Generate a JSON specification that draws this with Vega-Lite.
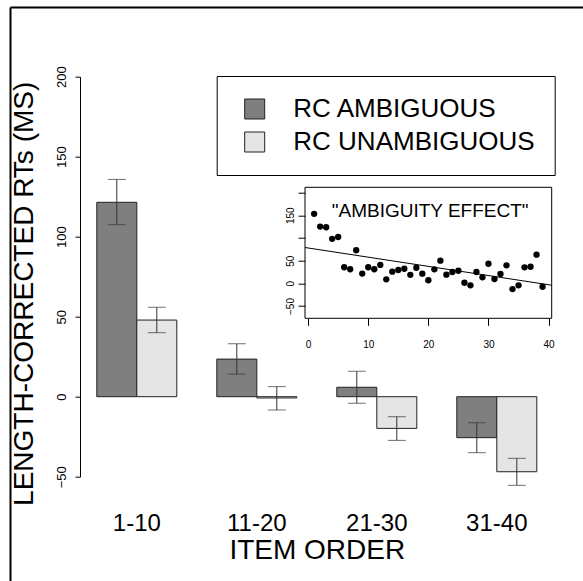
{
  "$schema": "https://vega.github.io/schema/vega-lite/v6.json",
  "width": 473.6,
  "height": 400,
  "autosize": "none",
  "padding": {"left": 80, "top": 76.7, "right": 29.4, "bottom": 104.3},
  "background": "white",
  "config": {
    "font": "Liberation Sans",
    "view": {"stroke": null},
    "axis": {"labelColor": "black", "titleColor": "black", "domainColor": "black", "tickColor": "black", "grid": false, "titleFontWeight": "normal"},
    "legend": {"strokeWidth": 1}
  },
  "datasets": {
    "bars": [
      {"order": "1-10", "cond": "RC AMBIGUOUS", "rt": 121.5, "lo": 107.5, "hi": 135.8},
      {"order": "1-10", "cond": "RC UNAMBIGUOUS", "rt": 47.9, "lo": 40.0, "hi": 55.9},
      {"order": "11-20", "cond": "RC AMBIGUOUS", "rt": 23.5, "lo": 14.1, "hi": 33.1},
      {"order": "11-20", "cond": "RC UNAMBIGUOUS", "rt": -0.8, "lo": -8.3, "hi": 6.3},
      {"order": "21-30", "cond": "RC AMBIGUOUS", "rt": 5.9, "lo": -4.1, "hi": 15.9},
      {"order": "21-30", "cond": "RC UNAMBIGUOUS", "rt": -19.8, "lo": -27.3, "hi": -12.5},
      {"order": "31-40", "cond": "RC AMBIGUOUS", "rt": -25.6, "lo": -35.0, "hi": -16.3},
      {"order": "31-40", "cond": "RC UNAMBIGUOUS", "rt": -46.9, "lo": -55.4, "hi": -38.5}
    ],
    "items": [
      {"item": 1, "rt": 153}, {"item": 2, "rt": 125}, {"item": 3, "rt": 123.5}, {"item": 4, "rt": 98},
      {"item": 5, "rt": 102}, {"item": 6, "rt": 35.5}, {"item": 7, "rt": 31}, {"item": 8, "rt": 72.8},
      {"item": 9, "rt": 21.5}, {"item": 10, "rt": 35.5}, {"item": 11, "rt": 31}, {"item": 12, "rt": 40.5},
      {"item": 13, "rt": 8.8}, {"item": 14, "rt": 25.6}, {"item": 15, "rt": 29.3}, {"item": 16, "rt": 32.2},
      {"item": 17, "rt": 18.8}, {"item": 18, "rt": 34.4}, {"item": 19, "rt": 21.2}, {"item": 20, "rt": 6.8},
      {"item": 21, "rt": 30.9}, {"item": 22, "rt": 49.9}, {"item": 23, "rt": 19}, {"item": 24, "rt": 25},
      {"item": 25, "rt": 27.8}, {"item": 26, "rt": 1.3}, {"item": 27, "rt": -4.4}, {"item": 28, "rt": 25},
      {"item": 29, "rt": 13.2}, {"item": 30, "rt": 43.2}, {"item": 31, "rt": 9.5}, {"item": 32, "rt": 20.5},
      {"item": 33, "rt": 39.7}, {"item": 34, "rt": -12.6}, {"item": 35, "rt": -4.4}, {"item": 36, "rt": 35.3},
      {"item": 37, "rt": 36.6}, {"item": 38, "rt": 63.1}, {"item": 39, "rt": -7.5}
    ]
  },
  "layer": [
    {
      "data": {"name": "bars"},
      "encoding": {
        "x": {
          "field": "order", "type": "nominal",
          "scale": {"domain": ["1-10", "11-20", "21-30", "31-40"], "paddingInner": 0.3333, "paddingOuter": 0.14},
          "axis": {
            "orient": "bottom", "domain": false, "ticks": false, "tickSize": 0, "labelAngle": 0,
            "labelFontSize": 24, "labelPadding": 35, "labelBaseline": "top",
            "title": "ITEM ORDER", "titleFontSize": 28, "titleX": 236.8, "titleY": 59.5,
            "titleBaseline": "top", "titleAlign": "center"
          }
        },
        "xOffset": {
          "field": "cond", "type": "nominal",
          "scale": {"domain": ["RC AMBIGUOUS", "RC UNAMBIGUOUS"], "paddingInner": 0, "paddingOuter": 0}
        }
      },
      "layer": [
        {
          "mark": {"type": "bar", "stroke": "#222", "strokeWidth": 1},
          "encoding": {
            "y": {
              "field": "rt", "type": "quantitative",
              "scale": {"domain": [-50, 200], "nice": false, "zero": false},
              "axis": {
                "orient": "left", "values": [-50, 0, 50, 100, 150, 200], "tickSize": 5,
                "labelAngle": -90, "labelAlign": "center", "labelBaseline": "bottom",
                "labelFontSize": 13, "labelPadding": 7,
                "title": "LENGTH-CORRECTED RTs (MS)", "titleFontSize": 28, "titleAngle": -90,
                "titleX": -55.8, "titleY": 216.6, "titleBaseline": "middle", "titleAlign": "center"
              }
            },
            "fill": {
              "field": "cond", "type": "nominal",
              "scale": {"domain": ["RC AMBIGUOUS", "RC UNAMBIGUOUS"], "range": ["#7f7f7f", "#e5e5e5"]},
              "legend": {
                "title": null, "orient": "none", "legendX": 136.7, "legendY": -0.7,
                "symbolType": "square", "symbolSize": 400, "symbolStrokeColor": "#222", "symbolStrokeWidth": 1,
                "labelFontSize": 26, "labelColor": "black", "labelOffset": 25.6, "symbolOffset": 5, "labelLimit": 0,
                "padding": 20, "rowPadding": 7, "strokeColor": "black"
              }
            }
          }
        },
        {
          "mark": {"type": "rule", "color": "#333", "strokeWidth": 1},
          "encoding": {
            "y": {"field": "lo", "type": "quantitative"},
            "y2": {"field": "hi"}
          }
        },
        {
          "mark": {"type": "tick", "color": "#333", "size": 18, "thickness": 1},
          "encoding": {"y": {"field": "lo", "type": "quantitative"}}
        },
        {
          "mark": {"type": "tick", "color": "#333", "size": 18, "thickness": 1},
          "encoding": {"y": {"field": "hi", "type": "quantitative"}}
        }
      ]
    },
    {
      "data": {"name": "items"},
      "layer": [
        {
          "transform": [{"aggregate": [{"op": "count", "as": "n"}]}],
          "mark": {"type": "rect", "fill": null, "stroke": "black", "strokeWidth": 1},
          "encoding": {
            "x": {"datum": -0.52, "type": "quantitative", "scale": {"domain": [-0.52, 40.52], "range": [225, 471.7], "nice": false, "zero": false}},
            "x2": {"datum": 40.52},
            "y": {"datum": -77, "type": "quantitative", "scale": {"domain": [-77, 211.5], "range": [241.6, 110.6], "nice": false, "zero": false}},
            "y2": {"datum": 211.5}
          }
        },
        {
          "mark": {"type": "circle", "color": "black", "opacity": 1, "size": 40},
          "encoding": {
            "x": {
              "field": "item", "type": "quantitative",
              "scale": {"domain": [-0.52, 40.52], "range": [225, 471.7], "nice": false, "zero": false},
              "axis": {
                "orient": "bottom", "offset": -158.4, "values": [0, 10, 20, 30, 40], "domain": false,
                "tickSize": 7, "labelFontSize": 10, "labelPadding": 14.4, "labelAngle": 0, "title": null
              }
            },
            "y": {
              "field": "rt", "type": "quantitative",
              "scale": {"domain": [-77, 211.5], "range": [241.6, 110.6], "nice": false, "zero": false},
              "axis": {
                "orient": "left", "offset": -225, "values": [-50, 0, 50, 100, 150, 200], "domain": false,
                "tickSize": 7, "labelFontSize": 10, "labelPadding": 2.4, "labelAngle": -90,
                "labelAlign": "center", "labelBaseline": "bottom",
                "labelExpr": "datum.value == 100 || datum.value == 200 ? '' : datum.label", "title": null
              }
            }
          }
        },
        {
          "transform": [{"regression": "rt", "on": "item", "extent": [-0.52, 40.52]}],
          "mark": {"type": "line", "color": "black", "strokeWidth": 1},
          "encoding": {
            "x": {"field": "item", "type": "quantitative"},
            "y": {"field": "rt", "type": "quantitative"}
          }
        },
        {
          "transform": [{"aggregate": [{"op": "count", "as": "n"}]}],
          "mark": {"type": "text", "text": "\"AMBIGUITY EFFECT\"", "fontSize": 19, "fill": "black", "fontWeight": "normal", "align": "center", "baseline": "middle"},
          "encoding": {
            "x": {"datum": 20.3, "type": "quantitative"},
            "y": {"datum": 160, "type": "quantitative"}
          }
        }
      ]
    },
    {
      "data": {"values": [{"edge": 0}]},
      "mark": {"type": "point", "opacity": 0},
      "encoding": {
        "x": {
          "field": "edge", "type": "quantitative",
          "scale": {"domain": [0, 1], "range": [-70, 503], "nice": false, "zero": false},
          "axis": {"orient": "top", "offset": 69.7, "domain": true, "domainWidth": 2, "domainColor": "black", "ticks": false, "labels": false, "title": null}
        },
        "y": {
          "field": "edge", "type": "quantitative",
          "scale": {"domain": [0, 1], "range": [504.3, -69.7], "nice": false, "zero": false},
          "axis": {"orient": "left", "offset": 70, "domain": true, "domainWidth": 2, "domainColor": "black", "ticks": false, "labels": false, "title": null}
        }
      }
    }
  ],
  "resolve": {"scale": {"x": "independent", "y": "independent"}}
}
